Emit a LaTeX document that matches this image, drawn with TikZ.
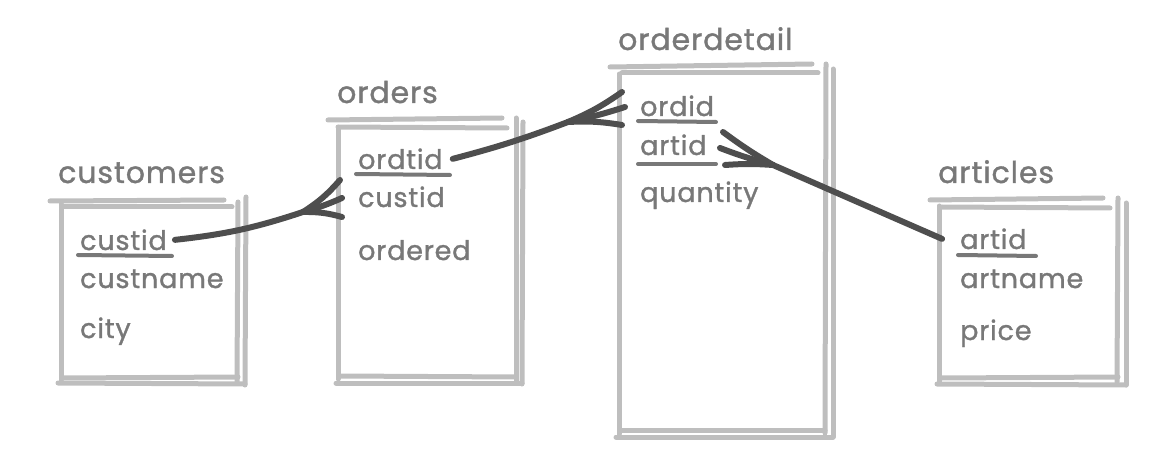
\documentclass[tikz,border=0pt]{standalone}
\usepackage{fontspec}
\setmainfont{Poppins}[FakeBold=1.2,LetterSpace=3]
\definecolor{framegray}{HTML}{BEBEBE}
\definecolor{textgray}{HTML}{787878}
\definecolor{linkgray}{HTML}{4E4E4E}
\tikzset{
    frame/.style={draw=framegray,line width=5pt,line cap=round},
    keyline/.style={draw=textgray,line width=4pt,line cap=round},
    link/.style={draw=linkgray,line width=6pt,line cap=round},
    tname/.style={anchor=base west,inner sep=0pt,text=textgray,font=\fontsize{30}{36}\selectfont},
    field/.style={anchor=base west,inner sep=0pt,text=textgray,font=\fontsize{27}{32}\selectfont}
}
\begin{document}
\begin{tikzpicture}[x=1pt,y=-1pt]
                    \useasboundingbox (0,0) rectangle (1149,457);
                    % customers
                    \node[tname] (T1) at (58,183) {customers};
                    \draw[frame] (50,201) -- (224,200);
                    \draw[frame] (62,207) -- (232,207);
                    \draw[frame] (61,204) -- (61,380);
                    \draw[frame] (238,202) -- (237,382);
                    \draw[frame] (246,197) -- (245,385);
                    \draw[frame] (62,378) -- (238,377);
                    \draw[frame] (58,383) -- (245,384);
                    \node[field] (C1) at (80,250) {custid};
                    \draw[keyline] (78,255) -- (172,256);
                    \node[field] (C2) at (80,288) {custname};
                    \node[field] (C3) at (80,338) {city};
                    % orders
                    \node[tname] (T2) at (337,103) {orders};
                    \draw[frame] (328,120) -- (502,118);
                    \draw[frame] (338,127) -- (507,128);
                    \draw[frame] (338,128) -- (338,379);
                    \draw[frame] (516,118) -- (516,381);
                    \draw[frame] (523,122) -- (522,384);
                    \draw[frame] (340,376) -- (516,377);
                    \draw[frame] (336,383) -- (522,383);
                    \node[field] (O1) at (358,169) {ordtid};
                    \draw[keyline] (356,174) -- (450,175);
                    \node[field] (O2) at (358,207) {custid};
                    \node[field] (O3) at (358,260) {ordered};
                    % orderdetail
                    \node[tname] (T3) at (618,50) {orderdetail};
                    \draw[frame] (610,67) -- (812,64);
                    \draw[frame] (622,73) -- (818,73);
                    \draw[frame] (619,74) -- (619,434);
                    \draw[frame] (826,64) -- (825,433);
                    \draw[frame] (833,69) -- (833,437);
                    \draw[frame] (620,430) -- (825,430);
                    \draw[frame] (616,437) -- (833,437);
                    \node[field] (D1) at (640,116) {ordid};
                    \draw[keyline] (638,121) -- (716,122);
                    \node[field] (D2) at (640,155) {artid};
                    \draw[keyline] (638,164) -- (716,164);
                    \node[field] (D3) at (640,202) {quantity};
                    % articles
                    \node[tname] (T4) at (938,183) {articles};
                    \draw[frame] (930,200) -- (1103,198);
                    \draw[frame] (942,207) -- (1110,208);
                    \draw[frame] (939,206) -- (939,382);
                    \draw[frame] (1118,198) -- (1117,382);
                    \draw[frame] (1126,203) -- (1126,385);
                    \draw[frame] (942,378) -- (1118,377);
                    \draw[frame] (937,384) -- (1126,385);
                    \node[field] (A1) at (960,249) {artid};
                    \draw[keyline] (958,255) -- (1036,256);
                    \node[field] (A2) at (960,288) {artname};
                    \node[field] (A3) at (960,340) {price};
                    % crow's feet
                    \coordinate (J1) at (303,212);
                    \coordinate (J1a) at (340,180);
                    \coordinate (J1b) at (342,198);
                    \coordinate (J1c) at (342,217);
                    \coordinate (J2) at (568,122);
                    \coordinate (J2a) at (622,92);
                    \coordinate (J2b) at (625,107);
                    \coordinate (J2c) at (622,125);
                    \coordinate (J3) at (773,165);
                    \coordinate (J3a) at (723,132);
                    \coordinate (J3b) at (720,148);
                    \coordinate (J3c) at (725,165);
                    % Links
                    \draw[link] ([xshift=8pt]C1.east) to[bend right=6] (J1);
                    \draw[link] (J1) to[bend right=8] (J1a);
                    \draw[link] (J1) to[bend right=4] (J1b);
                    \draw[link] (J1) to[bend left=8] (J1c);
                    \draw[link] ([xshift=10pt]O1.east) to[bend right=3] (J2);
                    \draw[link] (J2) to[bend right=6] (J2a);
                    \draw[link] (J2) to[bend right=3] (J2b);
                    \draw[link] (J2) to[bend left=6] (J2c);
                    \draw[link] ([xshift=-18pt]A1.west) -- (J3);
                    \draw[link] (J3) to[bend left=3] (J3a);
                    \draw[link] (J3) to[bend left=3] (J3b);
                    \draw[link] (J3) to[bend right=4] (J3c);
\end{tikzpicture}
\end{document}
